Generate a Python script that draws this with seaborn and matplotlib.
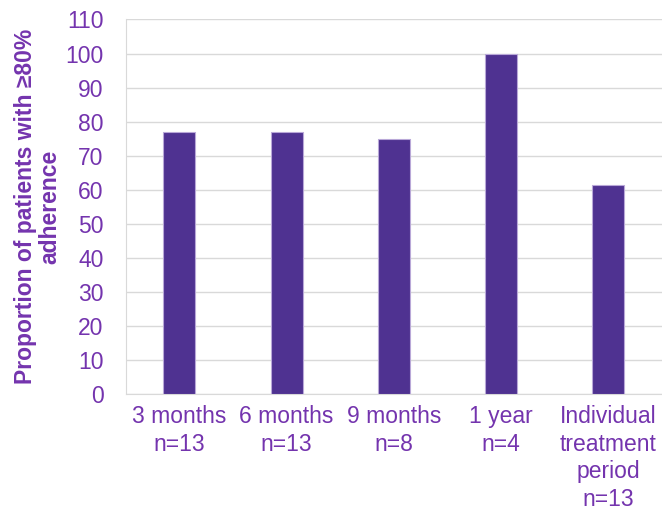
import matplotlib
matplotlib.use('Agg')
import matplotlib.pyplot as plt
import seaborn as sns
import pandas as pd

# dati
categorie = ['3 months\nn=13', '6 months\nn=13', '9 months\nn=8', '1 year\nn=4',
             'Individual\ntreatment\nperiod\nn=13']
proporzione = [76.9, 76.9, 75.0, 100.0, 61.5]
y_ticks = list(range(0, 111, 10))

df = pd.DataFrame({'categoria': categorie, 'valore': proporzione})

sns.set_style('white')
plt.rcParams['font.family'] = ['Liberation Sans', 'DejaVu Sans']

colore_barre = '#4F3291'
colore_testo = '#7434AE'
colore_griglia = '#D9D9D9'

fig = plt.figure(figsize=(6.62, 5.13), dpi=100)
ax = fig.add_axes([0.190, 0.232, 0.810, 0.730])

sns.barplot(data=df, x='categoria', y='valore', color=colore_barre, width=0.3,
            edgecolor='#B9A8D8', linewidth=0.8, saturation=1, ax=ax, zorder=3)

ax.set_ylim(0, 110)
ax.set_yticks(y_ticks)
ax.yaxis.grid(True, color=colore_griglia, linewidth=1, zorder=0)
ax.set_axisbelow(True)

for s in ['top', 'right']:
    ax.spines[s].set_visible(False)
ax.spines['left'].set_color(colore_griglia)
ax.spines['bottom'].set_color(colore_griglia)

ax.tick_params(axis='both', length=0, labelsize=16.5, labelcolor=colore_testo)
ax.tick_params(axis='y', pad=16)
ax.tick_params(axis='x', pad=8)
for lbl in ax.get_xticklabels():
    lbl.set_linespacing(1.25)

ax.set_xlabel('')
ax.set_ylabel('Proportion of patients with ≥80%\nadherence', fontsize=16.5,
              fontweight='bold', color=colore_testo, labelpad=3, linespacing=1.05)

plt.savefig('out.png', dpi=100)
